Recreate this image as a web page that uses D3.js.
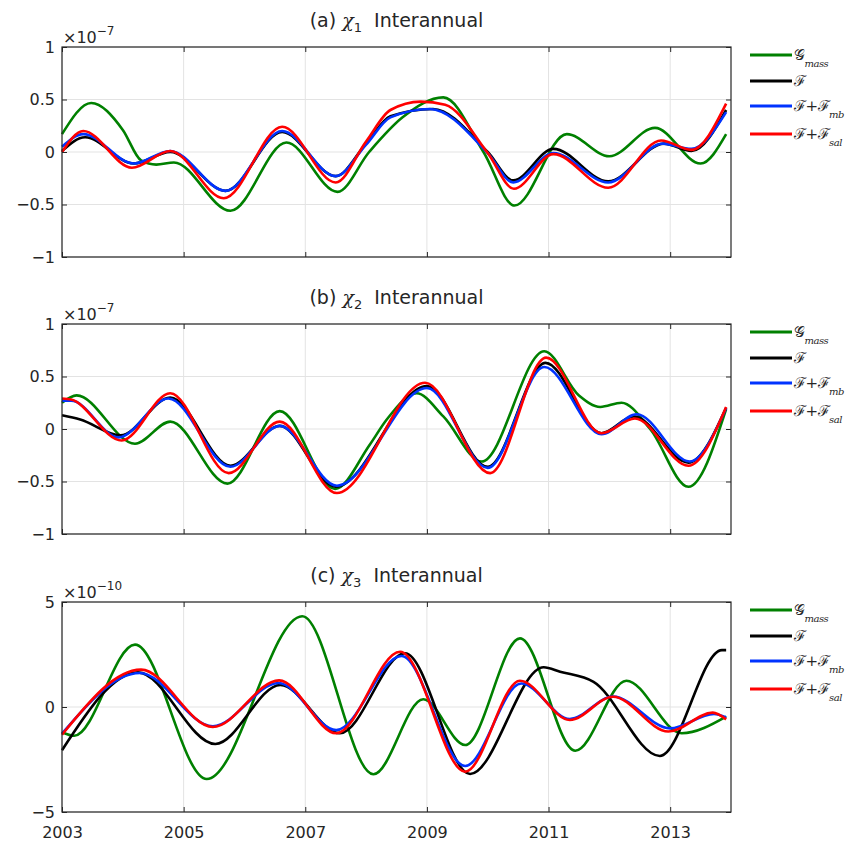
<!DOCTYPE html>
<html>
<head>
<meta charset="utf-8">
<script src="https://cdn.jsdelivr.net/npm/d3@7"></script>
<style>
  body { margin: 0; background: #fff; }
  svg text { font-family: "DejaVu Sans", sans-serif; fill: #262626; }
</style>
</head>
<body>
<div id="chart"></div>
<script>
// tick labels
const xTicks = [2003, 2005, 2007, 2009, 2011, 2013];
const yTicksAB = [-1, -0.5, 0, 0.5, 1];
const yTicksC = [-5, 0, 5];

// panel (a) chi_1, units 1e-7, [year, value]
const aGmass = [[2003,0.17],[2003.48,0.467],[2004,0.21],[2004.3,-0.08],[2004.55,-0.12],[2004.84,-0.10],[2005.77,-0.56],[2006.69,0.09],[2007.53,-0.38],[2008.05,0.0],[2008.6,0.33],[2009.27,0.52],[2009.93,0],[2010.44,-0.51],[2011.3,0.17],[2012.0,-0.04],[2012.75,0.23],[2013.5,-0.11],[2013.92,0.17]];
const aF = [[2003,0.01],[2003.38,0.14],[2004.18,-0.11],[2004.78,0.0],[2005.69,-0.37],[2006.62,0.19],[2007.5,-0.23],[2008,0.08],[2008.4,0.34],[2009.1,0.41],[2010,0],[2010.42,-0.27],[2011.08,0.03],[2011.98,-0.28],[2012.9,0.08],[2013.35,0.01],[2013.92,0.40]];
const aFmb = [[2003,0.05],[2003.35,0.17],[2004.18,-0.11],[2004.78,0.01],[2005.69,-0.37],[2006.62,0.20],[2007.5,-0.23],[2008,0.07],[2008.4,0.33],[2009.05,0.41],[2010,-0.01],[2010.42,-0.29],[2011.08,-0.01],[2011.98,-0.29],[2012.88,0.08],[2013.35,0.03],[2013.92,0.38]];
const aFsal = [[2003,0.0],[2003.35,0.20],[2004.15,-0.15],[2004.78,0.01],[2005.66,-0.44],[2006.62,0.24],[2007.5,-0.29],[2008,0.10],[2008.4,0.40],[2008.9,0.48],[2009.3,0.45],[2010,-0.01],[2010.43,-0.35],[2011.08,-0.02],[2011.98,-0.34],[2012.85,0.11],[2013.35,0.02],[2013.92,0.46]];

// panel (b) chi_2, units 1e-7
const bGmass = [[2003,0.25],[2003.24,0.32],[2004.2,-0.14],[2004.78,0.07],[2005.72,-0.52],[2006.58,0.17],[2007.49,-0.57],[2008.06,-0.15],[2008.34,0.09],[2008.83,0.34],[2009.27,0.12],[2009.9,-0.31],[2010.93,0.74],[2011.5,0.32],[2011.85,0.21],[2012.2,0.25],[2012.67,0],[2013.3,-0.55],[2013.92,0.19]];
const bF = [[2003,0.13],[2003.3,0.09],[2003.96,-0.06],[2004.78,0.30],[2005.77,-0.35],[2006.58,0.03],[2007.5,-0.55],[2009.0,0.41],[2010.0,-0.36],[2010.95,0.63],[2011.87,-0.04],[2012.4,0.12],[2013.3,-0.32],[2013.92,0.2]];
const bFmb = [[2003,0.27],[2003.15,0.27],[2003.93,-0.08],[2004.75,0.29],[2005.77,-0.36],[2006.58,0.03],[2007.52,-0.54],[2009.0,0.39],[2010.0,-0.37],[2010.93,0.59],[2011.87,-0.05],[2012.45,0.14],[2013.32,-0.31],[2013.92,0.2]];
const bFsal = [[2003,0.29],[2003.15,0.28],[2003.98,-0.11],[2004.78,0.34],[2005.74,-0.42],[2006.58,0.07],[2007.52,-0.61],[2008.97,0.44],[2010.04,-0.42],[2010.96,0.68],[2011.87,-0.04],[2012.42,0.10],[2013.3,-0.35],[2013.92,0.21]];

// panel (c) chi_3, units 1e-10
const cGmass = [[2003,-1.2],[2003.2,-1.37],[2004.2,2.97],[2005.38,-3.43],[2006.95,4.32],[2008.12,-3.2],[2008.94,0.37],[2009.63,-1.81],[2010.53,3.27],[2011.44,-2.08],[2012.28,1.25],[2013.19,-1.25],[2013.92,-0.46]];
const cF = [[2003,-2.06],[2004.25,1.65],[2005.52,-1.76],[2006.59,1.05],[2007.57,-1.25],[2008.64,2.56],[2009.71,-3.19],[2010.92,1.89],[2011.19,1.68],[2011.74,1.2],[2012.83,-2.33],[2013.85,2.71],[2013.92,2.71]];
const cFmb = [[2003,-1.27],[2004.28,1.62],[2005.48,-0.92],[2006.56,1.14],[2007.51,-1.1],[2008.58,2.43],[2009.63,-2.81],[2010.55,1.12],[2011.35,-0.57],[2012.06,0.5],[2013.0,-1.02],[2013.72,-0.33],[2013.92,-0.5]];
const cFsal = [[2003,-1.32],[2004.3,1.78],[2005.48,-0.95],[2006.57,1.27],[2007.51,-1.25],[2008.56,2.63],[2009.63,-3.08],[2010.53,1.25],[2011.35,-0.62],[2012.06,0.49],[2012.97,-1.17],[2013.7,-0.27],[2013.92,-0.59]];

const colors = ['#008000', '#000000', '#0033ff', '#ff0000'];

const panels = [
  { tag: '(a)', sub: '1', exp: '\u22127', top: 47, dom: [-1, 1], ticks: yTicksAB, series: [aGmass, aF, aFmb, aFsal], xlab: false },
  { tag: '(b)', sub: '2', exp: '\u22127', top: 324, dom: [-1, 1], ticks: yTicksAB, series: [bGmass, bF, bFmb, bFsal], xlab: false },
  { tag: '(c)', sub: '3', exp: '\u221210', top: 602, dom: [-5, 5], ticks: yTicksC, series: [cGmass, cF, cFmb, cFsal], xlab: true }
];

const W = 849, H = 843;
const left = 62, right = 731, ph = 210;
const svg = d3.select('#chart').append('svg').attr('width', W).attr('height', H);

const x = d3.scaleLinear().domain([2003, 2014]).range([left, right]);

const fmt = d => d === 0 ? '0' : (d < 0 ? '\u2212' + Math.abs(d) : String(d));

panels.forEach(p => {
  const y = d3.scaleLinear().domain(p.dom).range([p.top + ph, p.top]);
  const g = svg.append('g');

  // grid
  g.append('g').selectAll('line').data(xTicks).enter().append('line')
    .attr('x1', d => x(d)).attr('x2', d => x(d)).attr('y1', p.top).attr('y2', p.top + ph)
    .attr('stroke', '#e3e3e3').attr('stroke-width', 1);
  g.append('g').selectAll('line').data(p.ticks).enter().append('line')
    .attr('x1', left).attr('x2', right).attr('y1', d => y(d)).attr('y2', d => y(d))
    .attr('stroke', '#e3e3e3').attr('stroke-width', 1);

  // curves
  const line = d3.line().x(d => x(d[0])).y(d => y(d[1])).curve(d3.curveMonotoneX);
  p.series.forEach((s, i) => {
    g.append('path').datum(s).attr('d', line)
      .attr('fill', 'none').attr('stroke', colors[i]).attr('stroke-width', 2.6)
      .attr('stroke-linejoin', 'round');
  });

  // axes, inward ticks on all four sides
  const bottom = g.append('g').attr('transform', `translate(0,${p.top + ph})`)
    .call(d3.axisBottom(x).tickValues(xTicks).tickSizeInner(-5).tickSizeOuter(0).tickFormat(d => p.xlab ? d : ''));
  const top = g.append('g').attr('transform', `translate(0,${p.top})`)
    .call(d3.axisTop(x).tickValues(xTicks).tickSizeInner(-5).tickSizeOuter(0).tickFormat(''));
  const yl = g.append('g').attr('transform', `translate(${left},0)`)
    .call(d3.axisLeft(y).tickValues(p.ticks).tickSizeInner(-5).tickSizeOuter(0).tickFormat(fmt));
  const yr = g.append('g').attr('transform', `translate(${right},0)`)
    .call(d3.axisRight(y).tickValues(p.ticks).tickSizeInner(-5).tickSizeOuter(0).tickFormat(''));
  [bottom, top, yl, yr].forEach(a => {
    a.select('.domain').remove();
    a.selectAll('line').attr('stroke', '#262626');
    a.selectAll('text').style('font-size', '16px').attr('fill', '#262626');
  });
  yl.selectAll('text').attr('x', -7);
  bottom.selectAll('text').attr('y', 15).attr('dy', '0.71em');

  g.append('rect').attr('x', left).attr('y', p.top).attr('width', right - left).attr('height', ph)
    .attr('fill', 'none').attr('stroke', '#262626').attr('stroke-width', 1.2);

  // exponent label
  const ex = g.append('text').attr('x', 63).attr('y', p.top - 4).style('font-size', '16px');
  ex.append('tspan').text('\u00d710');
  ex.append('tspan').attr('dy', -8).style('font-size', '12px').text(p.exp);

  // title
  const t = g.append('text').attr('x', (left + right) / 2).attr('y', p.top - 20)
    .attr('text-anchor', 'middle').style('font-size', '19px');
  t.append('tspan').text(p.tag + ' ');
  t.append('tspan').style('font-family', '"DejaVu Serif", serif').style('font-style', 'italic').text('\u03c7');
  t.append('tspan').attr('dy', 5).style('font-size', '13px').text(p.sub);
  t.append('tspan').attr('dy', -5).text('\u00a0\u00a0Interannual');

  // legend
  const labels = [['\ud835\udca2', 'mass'], ['\u2131', ''], ['\u2131+\u2131', 'mb'], ['\u2131+\u2131', 'sal']];
  const rows = [8, 34, 59, 87];
  labels.forEach((l, i) => {
    const ly = p.top + rows[i];
    g.append('line').attr('x1', 750).attr('x2', 792).attr('y1', ly).attr('y2', ly)
      .attr('stroke', colors[i]).attr('stroke-width', 2.8);
    const lt = g.append('text').attr('x', 794).attr('y', ly + 5)
      .style('font-family', '"DejaVu Serif", serif').style('font-size', '15px').style('letter-spacing', '-0.5px');
    lt.append('tspan').text(l[0]);
    if (l[1]) lt.append('tspan').attr('dy', 7).style('font-size', '10px').style('font-style', 'italic').text(l[1]);
  });
});
</script>
</body>
</html>
